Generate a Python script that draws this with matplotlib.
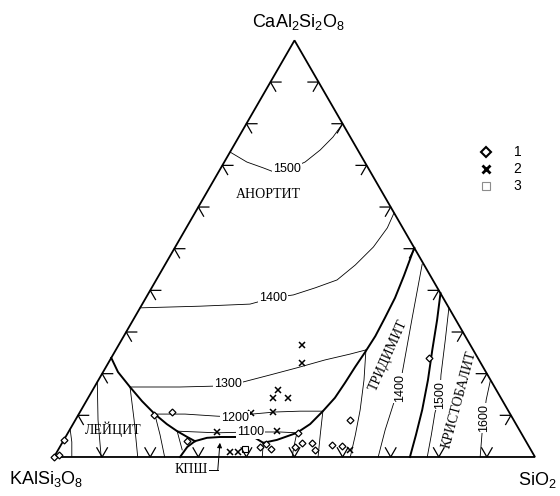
import numpy as np
import matplotlib.pyplot as plt

plt.rcParams['mathtext.fontset'] = 'custom'
plt.rcParams['mathtext.rm'] = 'Liberation Sans'
SANS = 'Liberation Sans'
SERIF = 'Liberation Serif'

# all compositions are wt.% (An, SiO2); Or = 100 - An - SiO2

# field boundaries
lc_an = [23.8, 20.4, 16.8, 13.4, 10.3, 7.9, 6.2, 4.8, 3.8]          # leucite / anorthite
lc_qz = [0.0, 3.1, 7.4, 11.6, 15.8, 19.5, 22.5, 25.3, 27.4]
kf_top_an = [3.8, 4.6, 4.8, 4.8, 4.8, 4.6, 3.4]                      # K-feldspar dome
kf_top_qz = [27.4, 29.5, 32.1, 34.8, 37.7, 39.5, 41.8]
kf_left_an = [3.8, 2.4, 0.0]
kf_left_qz = [27.4, 26.5, 26.2]
tr_an = [3.4, 4.1, 5.8, 7.9, 11.0, 14.2, 17.8, 21.6, 25.2, 29.0, 33.4, 38.2, 43.5, 50.2]   # anorthite / tridymite
tr_qz = [41.8, 44.3, 47.6, 49.3, 50.4, 51.3, 51.6, 51.8, 52.1, 52.3, 52.1, 51.8, 51.0, 49.8]
cr_an = [39.3, 32.9, 25.7, 18.5, 11.3, 5.3, 0.0]                     # tridymite / cristobalite
cr_qz = [60.7, 63.2, 65.8, 68.5, 70.9, 72.6, 74.0]

# isotherms in the anorthite field
i1500_an = [73.2, 70.8, 69.4, 68.6, 68.8, 70.8, 73.7, 76.8, 80.0]
i1500_qz = [0.0, 4.7, 8.8, 11.0, 13.9, 16.8, 18.5, 19.6, 20.0]
i1400_an = [35.8, 36.2, 36.7, 38.2, 38.9, 40.6, 42.5, 46.1, 50.4, 55.0, 58.6]
i1400_qz = [0.0, 12.3, 22.4, 26.4, 30.3, 34.0, 37.6, 39.6, 41.2, 41.8, 41.4]
i1300_an = [16.8, 16.8, 17.0, 17.5, 18.0, 19.7, 21.4, 23.3, 24.7, 25.7]
i1300_qz = [7.4, 17.8, 24.6, 27.4, 30.3, 35.1, 39.8, 44.7, 49.2, 52.0]
i1200_an = [10.3, 10.3, 9.8, 9.6, 10.3, 10.8, 11.0, 11.0]
i1200_qz = [15.8, 22.1, 29.0, 32.9, 36.0, 40.6, 45.7, 50.4]
i1100_an = [6.2, 5.8, 6.0, 6.0, 5.8]
i1100_qz = [22.5, 31.0, 37.8, 44.0, 47.6]

# isotherms in the leucite field
lt1_an, lt1_qz = [6.7, 3.6, 0.2], [0.0, 1.9, 3.6]
lt2_an, lt2_qz = [18.0, 8.9, 0.0], [0.0, 4.7, 9.8]
lt3_an, lt3_qz = [16.8, 8.9, 0.0], [7.4, 12.2, 17.4]
lt4_an, lt4_qz = [10.3, 5.3, 0.0], [15.8, 19.4, 23.0]
lt5_an, lt5_qz = [6.2, 1.7], [22.5, 25.8]

# isotherms in the tridymite field
tt0_an, tt0_qz = [3.4, 0.0], [41.8, 43.3]
tt1_an, tt1_qz = [5.8, 2.9, 0.0], [47.6, 48.5, 49.5]
tt2_an, tt2_qz = [11.0, 5.3, 0.0], [50.4, 52.7, 54.9]
tt3_an, tt3_qz = [25.7, 18.5, 11.3, 5.3, 0.0], [52.0, 55.2, 58.0, 60.0, 61.6]
tt4_an = [46.3, 33.6, 20.2, 16.6, 13.2, 6.5, 0.0]
tt4_qz = [53.4, 57.7, 62.3, 63.7, 64.1, 65.6, 67.4]

# isotherms in the cristobalite field
c1500_an = [35.8, 28.1, 19.7, 14.9, 10.6, 5.3, 0.0]
c1500_qz = [64.2, 67.3, 70.6, 72.8, 73.9, 75.8, 77.6]
c1600_an = [18.5, 13.7, 9.4, 5.8, 0.0]
c1600_qz = [81.5, 83.0, 84.7, 86.1, 88.6]

# samples
s1_an = [0.0, 0.5, 4.0, 10.1, 10.8, 3.8, 2.4, 3.1, 1.9, 2.4, 5.8, 3.4, 3.4, 1.7, 2.9, 2.6, 8.9, 23.8]
s1_qz = [0.0, 0.8, 0.0, 15.7, 19.1, 25.8, 41.6, 42.5, 44.2, 48.9, 47.9, 49.9, 52.0, 53.4, 56.4, 58.6, 57.1, 66.1]
s2_an = [26.9, 22.6, 16.1, 14.2, 14.2, 10.6, 10.8, 6.0, 6.2, 1.2, 1.2, 1.7]
s2_qz = [38.1, 40.3, 38.5, 38.4, 41.6, 35.7, 40.1, 30.9, 43.3, 36.0, 37.7, 60.7]
s3_an = [1.9]
s3_qz = [38.8]

H = np.sqrt(3) / 2


def xy(an, qz):
    an = np.asarray(an) / 100.0
    qz = np.asarray(qz) / 100.0
    return qz + an / 2, an * H


fig = plt.figure(figsize=(5.6, 4.96), dpi=100)
ax = fig.add_axes([0, 0, 1, 1])
ax.set_xlim(-0.1123, 1.052)
ax.set_ylim(-0.0811, 0.950)
ax.axis('off')

# triangle
ax.plot([0, 1, 0.5, 0], [0, 0, H, 0], color='black', lw=1.3, solid_joinstyle='miter')

# ticks every 10 %
L = 0.022
c, s = 0.5, H
for i in range(1, 10):
    f = i / 10
    x0, y0 = f, 0
    ax.plot([x0 - L * c, x0, x0 + L * c], [y0 + L * s, y0, y0 + L * s], color='black', lw=0.9)
    x0, y0 = f * 0.5, f * H
    ax.plot([x0 + L, x0, x0 + L * c], [y0, y0, y0 - L * s], color='black', lw=0.9)
    x0, y0 = 1 - f * 0.5, f * H
    ax.plot([x0 - L, x0, x0 - L * c], [y0, y0, y0 - L * s], color='black', lw=0.9)

# boundaries
for an, qz in [(lc_an, lc_qz), (kf_top_an, kf_top_qz), (kf_left_an, kf_left_qz),
               (tr_an, tr_qz), (cr_an, cr_qz)]:
    ax.plot(*xy(an, qz), color='black', lw=1.4)

# isotherms
for an, qz in [(i1500_an, i1500_qz), (i1400_an, i1400_qz), (i1300_an, i1300_qz),
               (i1200_an, i1200_qz), (i1100_an, i1100_qz),
               (lt1_an, lt1_qz), (lt2_an, lt2_qz), (lt3_an, lt3_qz), (lt4_an, lt4_qz), (lt5_an, lt5_qz),
               (tt0_an, tt0_qz), (tt1_an, tt1_qz), (tt2_an, tt2_qz), (tt3_an, tt3_qz), (tt4_an, tt4_qz),
               (c1500_an, c1500_qz), (c1600_an, c1600_qz)]:
    ax.plot(*xy(an, qz), color='black', lw=0.6)

# isotherm labels
box = dict(facecolor='white', edgecolor='none', pad=0.6)
for txt, an, qz, rot in [('1500', 69.1, 13.9, 0), ('1400', 38.2, 26.4, 0), ('1300', 17.5, 27.4, 0),
                         ('1200', 9.4, 32.9, 0), ('1100', 6.0, 37.8, 0),
                         ('1400', 16.6, 63.7, 90), ('1500', 14.9, 72.8, 90), ('1600', 9.4, 84.7, 90)]:
    x, y = xy(an, qz)
    ax.text(x, y, txt, fontsize=9, family=SANS, ha='center', va='center', rotation=rot, bbox=box)

# field names
for txt, an, qz, rot in [('АНОРТИТ', 62.9, 13.2, 0), ('ЛЕЙЦИТ', 6.7, 8.9, 0),
                         ('ТРИДИМИТ', 24.5, 57.2, 66), ('КРИСТОБАЛИТ', 13.7, 77.4, 75)]:
    x, y = xy(an, qz)
    ax.text(x, y, txt, fontsize=10, family=SERIF, ha='center', va='center', rotation=rot)

# K-feldspar label with leader
x, y = xy(-3.1, 30.1)
ax.text(x, y, 'КПШ', fontsize=10, family=SERIF, ha='center', va='center')
xa, ya = xy(-3.1, 33.8)
xb, yb = xy(-3.1, 35.6)
ax.plot([xa, xb], [ya, yb], color='black', lw=0.7)
xt, yt = xy(3.4, 32.8)
ax.annotate('', xy=(xt, yt), xytext=(xb, yb),
            arrowprops=dict(arrowstyle='-|>', color='black', lw=0.7, mutation_scale=7,
                            shrinkA=0, shrinkB=0))

# samples
ax.plot(*xy(s1_an, s1_qz), ls='none', marker='D', ms=3.5, mfc='white', mec='black', mew=0.9)
ax.plot(*xy(s2_an, s2_qz), ls='none', marker='x', ms=4.5, color='black', mew=1.1)
ax.plot(*xy(s3_an, s3_qz), ls='none', marker='s', ms=5, mfc='none', mec='black', mew=0.8)

# vertex labels
ax.text(0.509, 0.894, r'CaAl$_\mathregular{2}$Si$_\mathregular{2}$O$_\mathregular{8}$',
        fontsize=13, family=SANS, ha='center', va='baseline')
ax.text(-0.017, -0.056, r'KAlSi$_\mathregular{3}$O$_\mathregular{8}$',
        fontsize=13, family=SANS, ha='center', va='baseline')
ax.text(1.004, -0.058, r'SiO$_\mathregular{2}$', fontsize=13, family=SANS, ha='center', va='baseline')

# legend
lx, ly = 0.898, 0.635
ax.plot(lx, ly, marker='D', ms=5, mfc='white', mec='black', mew=1.5)
ax.plot(lx, ly - 0.036, marker='x', ms=6, color='black', mew=2)
ax.plot(lx, ly - 0.072, marker='s', ms=6, mfc='none', mec='0.55', mew=0.8)
for k, t in enumerate(['1', '2', '3']):
    ax.text(lx + 0.066, ly - 0.036 * k, t, fontsize=10, family=SANS, ha='center', va='center')

fig.savefig('out.png', dpi=100)
